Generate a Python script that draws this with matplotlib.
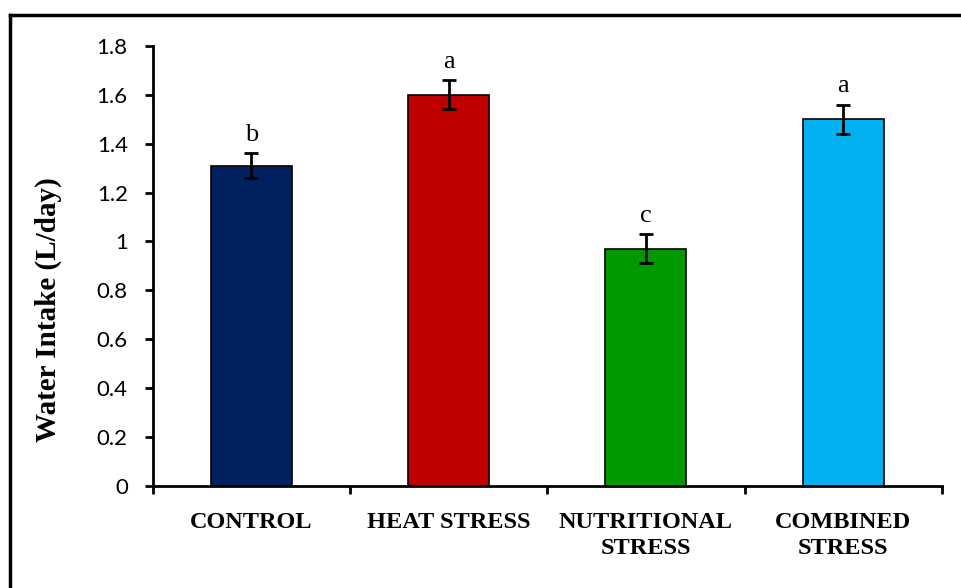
import numpy as np
import matplotlib.pyplot as plt
from matplotlib.lines import Line2D
from matplotlib.ticker import FormatStrFormatter, FixedLocator

# Datos
categories = ["CONTROL", "HEAT STRESS", "NUTRITIONAL\nSTRESS", "COMBINED\nSTRESS"]
water_intake = [1.31, 1.60, 0.97, 1.50]
errors = [0.05, 0.06, 0.06, 0.06]
letters = ["b", "a", "c", "a"]
colors = ["#002060", "#C00000", "#009900", "#00B0F0"]

fig = plt.figure(figsize=(9.61, 5.88), dpi=100)
ax = fig.add_axes([0.159, 0.1735, 0.821, 0.7485])

x = np.arange(len(categories))
ax.bar(x, water_intake, width=0.41, color=colors, edgecolor="black", linewidth=1.2,
       yerr=errors, capsize=5, error_kw=dict(elinewidth=2, capthick=2, ecolor="black"))

for xi, v, e, l in zip(x, water_intake, errors, letters):
    ax.annotate(l, (xi, v + e), xytext=(0, 9), textcoords="offset points",
                ha="center", va="baseline", fontsize=19, family="Liberation Serif")

ax.set_xlim(-0.5, 3.5)
ax.set_ylim(0, 1.8)
ax.set_yticks(np.arange(0, 1.81, 0.2))
ax.yaxis.set_major_formatter(FormatStrFormatter("%g"))
ax.set_xticks(x)
ax.set_xticklabels(categories, fontsize=17.5, fontweight="bold", family="Liberation Serif",
                   linespacing=1.3)
ax.xaxis.set_minor_locator(FixedLocator(np.arange(-0.5, 3.6, 1)))
ax.tick_params(axis="x", which="major", length=0, pad=19)
ax.tick_params(axis="x", which="minor", direction="out", length=6, width=2)
ax.tick_params(axis="y", direction="out", length=6, width=2, pad=12, labelsize=16)
for lab in ax.get_yticklabels():
    lab.set_family("Lato")

ax.set_ylabel("Water Intake (L/day)", fontsize=21, fontweight="bold", family="Liberation Serif")
ax.yaxis.set_label_coords(-0.133, 0.40)
ax.yaxis.label.set_va("center")

for s in ["top", "right"]:
    ax.spines[s].set_visible(False)
for s in ["left", "bottom"]:
    ax.spines[s].set_linewidth(2)

# marco exterior (solo arriba e izquierda visibles)
fig.add_artist(Line2D([0.0104, 1.0], [0.9745, 0.9745], color="black", lw=2.5, transform=fig.transFigure))
fig.add_artist(Line2D([0.0104, 0.0104], [0.0, 0.9745], color="black", lw=2.5, transform=fig.transFigure))

fig.savefig("out.png", dpi=100)
